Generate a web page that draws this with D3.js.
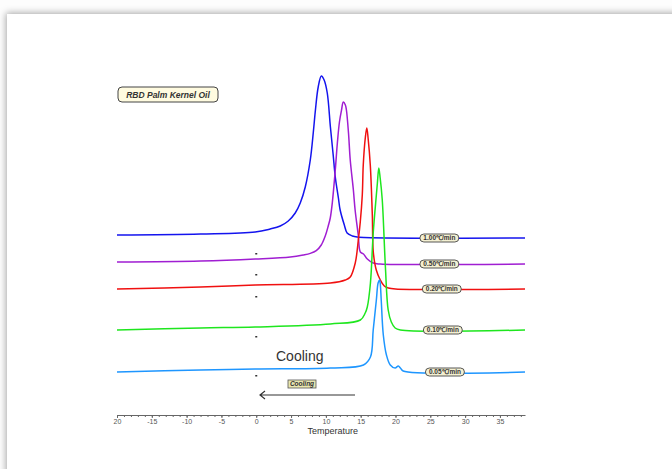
<!DOCTYPE html>
<html>
<head>
<meta charset="utf-8">
<script src="https://cdn.jsdelivr.net/npm/d3@7"></script>
<style>
  body { margin: 0; background: #fdfdfd; width: 672px; height: 469px; overflow: hidden; position: relative; }
  #panel { position: absolute; left: 7px; top: 14px; width: 720px; height: 520px; background: #fff;
           box-shadow: 0 0 7px 1px rgba(0,0,0,0.35); }
  #chart { position: absolute; left: 0; top: 0; }
  .axis text { font-family: Arial, "Liberation Sans", sans-serif; font-size: 7px; fill: #555; }
  .axis path, .axis line { stroke: #666; }
  .curve { fill: none; stroke-width: 1.5; }
  .rate-label text { font-family: Arial, "Liberation Sans", sans-serif; font-size: 6.5px; font-weight: bold; fill: #333; }
</style>
</head>
<body>
<div id="panel"></div>
<div id="chart"></div>
<script>
// DSC cooling curves, RBD palm kernel oil (temperature, heat flow in arbitrary units)

var rates = ["1.00℃/min", "0.50℃/min", "0.20℃/min", "0.10℃/min", "0.05℃/min"];
var colors = ["#1414ee", "#a01ed2", "#f01010", "#1ee61e", "#1e96ff"];

var curve100 = [[-20,45],[-8,45.25],[-0.15,45.75],[2,46.5],[3.45,47.25],[4.6,48.5],[5.6,50.5],[6.32,53],[7.04,57],
  [7.76,63.75],[8.2,70.75],[8.5,76.25],[8.9,82],[9.35,84.75],[9.75,83.75],[10.2,80.5],[10.65,72],[11.05,65],
  [11.35,59.5],[11.8,54.25],[12.05,51.25],[12.65,47.5],[13.05,45.5],[13.8,44.75],[14.5,44.5],[38.6,44.25]];

var curve050 = [[-20,38.25],[-8,38.5],[-0.15,39],[4.9,39.5],[6.75,40],[7.76,40.4],[8.62,41.1],[9.34,42.5],
  [9.91,44.75],[10.34,47.25],[10.63,49.25],[10.92,53],[11.35,61.25],[11.65,68],[11.95,73.25],[12.25,76.25],
  [12.5,78.25],[12.8,77.5],[12.95,76.25],[13.25,70.5],[13.5,63.75],[13.95,56.25],[14.2,51.25],[14.65,45],
  [14.95,40.75],[15.4,40.25],[15.95,39],[16.8,38],[17.8,37.75],[38.6,37.75]];

var curve020 = [[-20,31.5],[-8,32],[-0.15,32.5],[10.65,33],[12.8,33.75],[13.5,34.5],[14.22,38],[14.66,43.75],
  [14.94,48.25],[15.23,55],[15.37,62.5],[15.66,69.25],[15.88,71.75],[16.09,68.75],[16.38,62.5],[16.67,50],
  [16.81,40.75],[17.24,36.25],[17.82,33.75],[18.39,32.25],[18.97,31.75],[20,31.5],[38.6,31.5]];

var curve010 = [[-20,21.25],[-8,21.75],[-0.15,22],[10.65,22.75],[14.95,23.75],[15.65,25.5],[15.95,27],
  [16.4,33],[16.8,45.5],[17.25,55],[17.4,58],[17.6,61.75],[17.8,59.25],[18.1,53.75],[18.55,37],[18.95,26.25],
  [19.4,23.25],[19.95,21.75],[20.7,21.25],[38.6,21.25]];

var curve005 = [[-20,10.75],[-8,11.25],[-0.15,11.5],[10.65,11.75],[15.4,12.5],[16.4,14.5],[16.8,21.25],
  [17.25,28.75],[17.5,33],[17.7,33.75],[17.8,33],[17.95,28.75],[18.25,20],[18.7,15],[19.25,12.5],[19.95,11.75],
  [20.4,12.25],[20.7,11.75],[21.1,11],[38.6,10.75]];

var seriesData = [curve100, curve050, curve020, curve010, curve005];

// where each rate tag sits along its baseline
var labelTemps = [26.3, 26.3, 26.65, 26.8, 27.1];
// short dark marks at 0 °C under each curve
var markValues = [40.25, 35, 29.5, 19.5, 9.75];

var xTicks = [-20, -15, -10, -5, 0, 5, 10, 15, 20, 25, 30, 35];
var xTickLabels = ["20", "-15", "-10", "-5", "0", "5", "10", "15", "20", "25", "30", "35"];
var xMinorTicks = d3.range(-20, 39, 1);

var width = 672, height = 469;

var svg = d3.select("#chart").append("svg")
  .attr("width", width).attr("height", height);

var x = d3.scaleLinear().domain([-20, 38.6]).range([117, 525]);
var y = d3.scaleLinear().domain([0, 100]).range([415, 15]);

var line = d3.line()
  .x(function(d) { return x(d[0]); })
  .y(function(d) { return y(d[1]); })
  .curve(d3.curveCatmullRom.alpha(0.5));

// x axis
svg.append("g")
  .attr("class", "axis")
  .attr("transform", "translate(0,415)")
  .call(d3.axisBottom(x).tickValues(xMinorTicks).tickSize(2).tickFormat(""))
  .call(function(g) { g.select(".domain").remove(); g.selectAll("line").attr("stroke", "#aaa"); });

svg.append("g")
  .attr("class", "axis")
  .attr("transform", "translate(0,415)")
  .call(d3.axisBottom(x).tickValues(xTicks).tickSizeInner(3).tickSizeOuter(0)
        .tickPadding(1).tickFormat(function(d, i) { return xTickLabels[i]; }));

svg.append("text")
  .attr("x", x(11)).attr("y", 434)
  .attr("text-anchor", "middle")
  .style("font-family", "Arial, 'Liberation Sans', sans-serif")
  .style("font-size", "9px").style("fill", "#333")
  .text("Temperature");

// curves
svg.append("g").selectAll("path")
  .data(seriesData)
  .enter().append("path")
  .attr("class", "curve")
  .attr("stroke", function(d, i) { return colors[i]; })
  .attr("d", line);

// little marks at 0
svg.append("g").selectAll("rect")
  .data(markValues)
  .enter().append("rect")
  .attr("x", x(0) - 1).attr("y", function(d) { return y(d) - 1; })
  .attr("width", 2).attr("height", 1.5)
  .attr("fill", "#333");

// rate tags
var tags = svg.append("g").attr("class", "rate-label").selectAll("g")
  .data(rates)
  .enter().append("g")
  .attr("transform", function(d, i) {
    var last = seriesData[i][seriesData[i].length - 1];
    return "translate(" + x(labelTemps[i]) + "," + y(last[1]) + ")";
  });

tags.append("rect")
  .attr("x", -19.5).attr("y", -4).attr("width", 39).attr("height", 8)
  .attr("rx", 4).attr("ry", 4)
  .attr("fill", "#f4f0d2").attr("stroke", "#444").attr("stroke-width", 0.9);

tags.append("text")
  .attr("text-anchor", "middle").attr("dy", "2.3")
  .text(function(d) { return d; });

// sample name tag
var title = svg.append("g").attr("transform", "translate(118,87)");
title.append("rect")
  .attr("width", 100).attr("height", 15).attr("rx", 4)
  .attr("fill", "#fffbe0").attr("stroke", "#444").attr("stroke-width", 1);
title.append("text")
  .attr("x", 50).attr("y", 10.5).attr("text-anchor", "middle")
  .style("font-family", "Arial, 'Liberation Sans', sans-serif")
  .style("font-size", "8.5px").style("font-weight", "bold").style("font-style", "italic")
  .style("fill", "#333")
  .text("RBD Palm Kernel Oil");

// cooling annotations
svg.append("text")
  .attr("x", 276).attr("y", 361)
  .style("font-family", "Arial, 'Liberation Sans', sans-serif")
  .style("font-size", "14px").style("fill", "#333")
  .text("Cooling");

svg.append("rect")
  .attr("x", 288).attr("y", 380).attr("width", 28).attr("height", 8)
  .attr("fill", "#e9e6b0").attr("stroke", "#555").attr("stroke-width", 0.8);
svg.append("text")
  .attr("x", 302).attr("y", 386.3).attr("text-anchor", "middle")
  .style("font-family", "Arial, 'Liberation Sans', sans-serif")
  .style("font-size", "6.5px").style("font-weight", "bold").style("font-style", "italic")
  .style("fill", "#333")
  .text("Cooling");

svg.append("path")
  .attr("d", "M355,395 L260,395 M265,391 L260,395 L265,399")
  .attr("fill", "none").attr("stroke", "#333").attr("stroke-width", 1.2);
</script>
</body>
</html>
